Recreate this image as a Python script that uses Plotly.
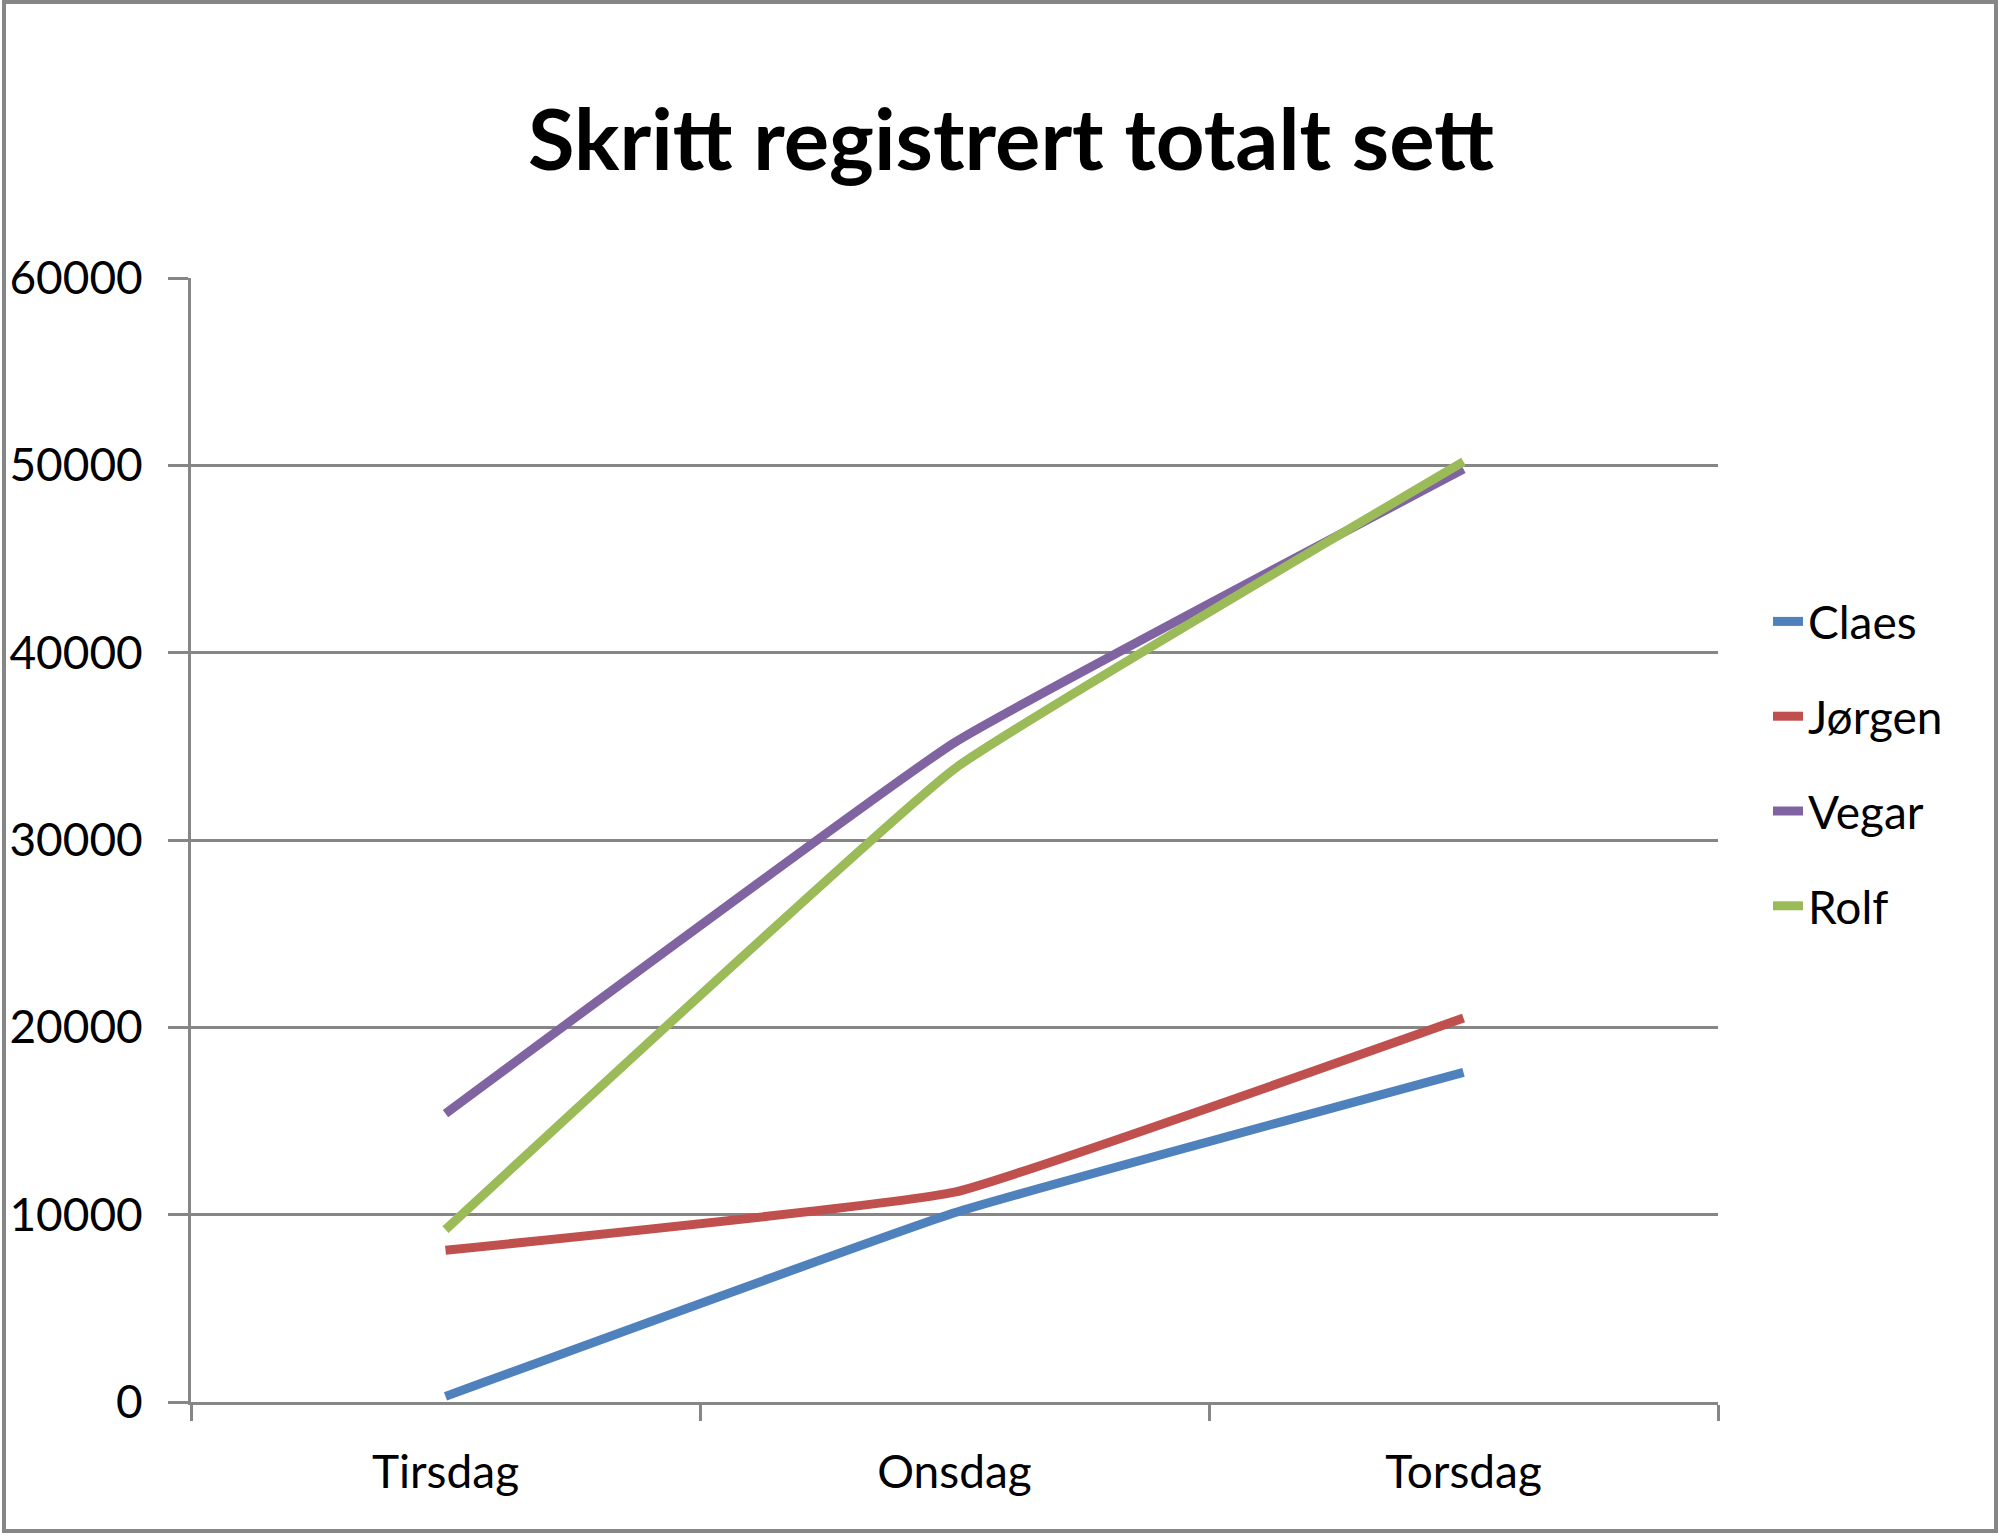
import plotly.graph_objects as go

days = ["Tirsdag", "Onsdag", "Torsdag"]
claes = [300, 10100, 17600]
jorgen = [8100, 11200, 20500]
vegar = [15400, 35200, 49800]
rolf = [9200, 33800, 50200]
names = ["Claes", "Jørgen", "Vegar", "Rolf"]
colors = ["#4F81BD", "#C0504D", "#8064A2", "#9BBB59"]
y_ticks = [0, 10000, 20000, 30000, 40000, 50000, 60000]

W, H = 2000, 1535
L, R, T, B = 191, 282, 278, 133
pw, ph = W - L - R, H - T - B

fig = go.Figure()
for i, (n, vals) in enumerate(zip(names, [claes, jorgen, vegar, rolf])):
    fig.add_trace(go.Scatter(
        x=days, y=vals, name=n, mode="lines", legendgroup=n,
        line=dict(color=colors[i], width=9, shape="spline", smoothing=0.3),
    ))

font_family = "Lato, Open Sans, sans-serif"
fig.update_layout(
    width=W, height=H,
    margin=dict(l=L, r=R, t=T, b=B, autoexpand=False),
    paper_bgcolor="white", plot_bgcolor="white",
    title=dict(text="<b>Skritt registrert totalt sett</b>", x=1011 / W, xanchor="center",
               y=1 - 140 / H, yanchor="middle",
               font=dict(family=font_family, size=85, color="black")),
    font=dict(family=font_family, color="black"),
    showlegend=True,
    legend=dict(x=(1768 - L) / pw, xanchor="left", y=(1402 - 764) / ph, yanchor="middle",
                font=dict(size=46, family=font_family, color="black"),
                tracegroupgap=32, bgcolor="rgba(0,0,0,0)"),
    xaxis=dict(type="category", range=[-0.5, 2.5], showgrid=False, automargin=False,
               showline=True, linecolor="#868686", linewidth=3,
               ticks="outside", tickson="boundaries", ticklen=16, tickwidth=3, tickcolor="#868686",
               tickfont=dict(size=46, family=font_family, color="black"),
               ticklabelstandoff=28, fixedrange=True),
    yaxis=dict(range=[0, 60000], tickvals=y_ticks, ticktext=[str(v) for v in y_ticks],
               automargin=False,
               showgrid=True, gridcolor="#868686", gridwidth=2.5,
               showline=True, linecolor="#868686", linewidth=3, zeroline=False,
               ticks="outside", ticklen=20, tickwidth=2.5, tickcolor="#868686",
               tickfont=dict(size=46, family=font_family, color="black"),
               ticklabelstandoff=16, fixedrange=True),
)

fig.add_shape(type="rect", xref="paper", yref="paper",
              x0=(4 - L) / pw, x1=(1996 - L) / pw,
              y0=(H - B - 1531) / ph, y1=(H - B - 2) / ph,
              line=dict(color="#868686", width=4), fillcolor="rgba(0,0,0,0)", layer="above")

fig.write_html("out.html", config={"displayModeBar": False},
               post_script="document.body.style.margin='0';document.body.style.overflow='hidden';")
